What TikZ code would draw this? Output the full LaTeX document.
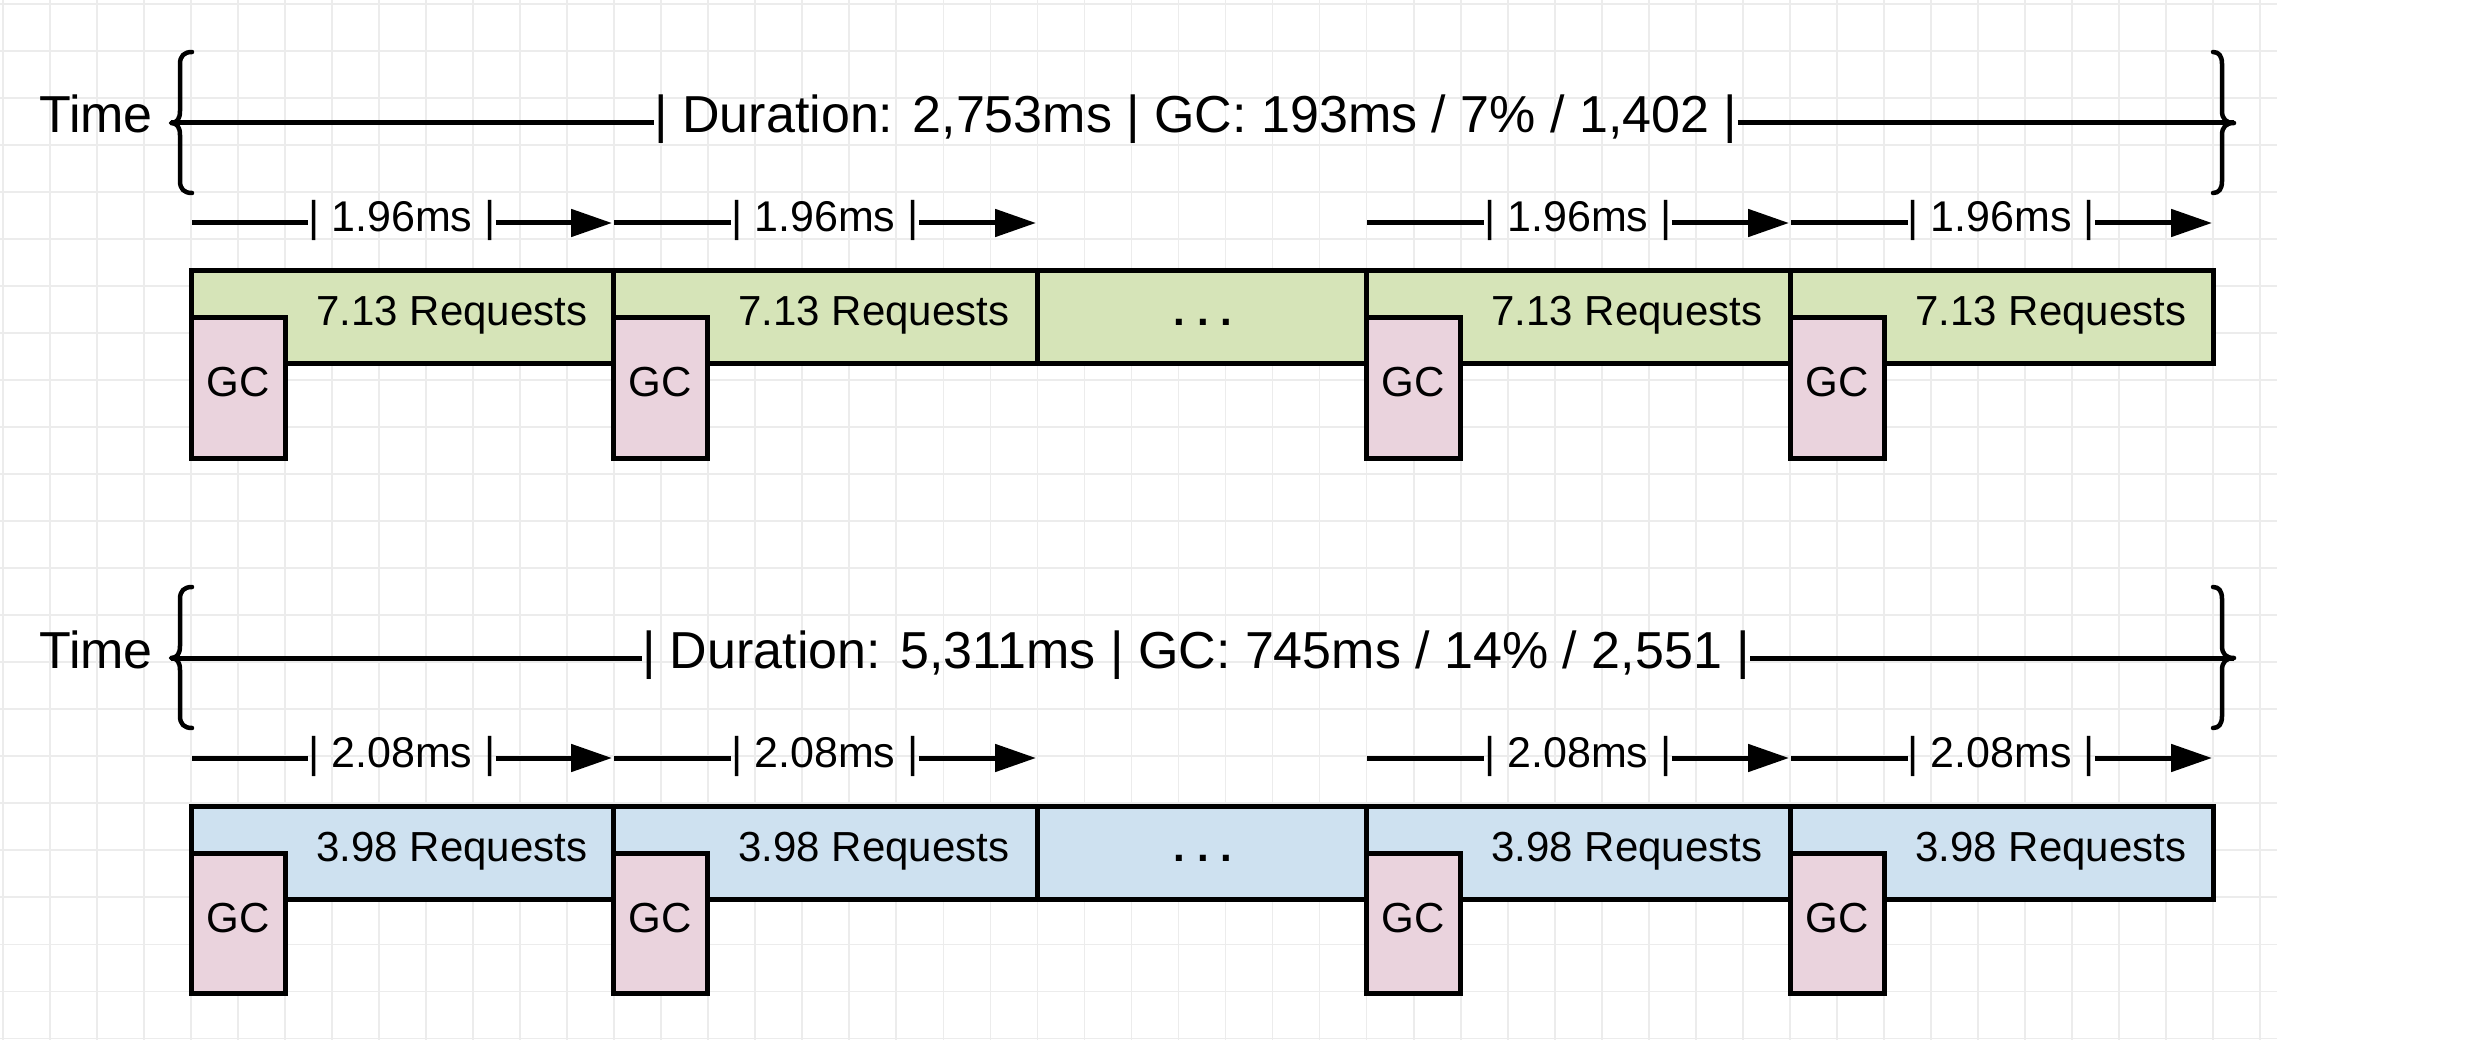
\documentclass[tikz,border=0pt]{standalone}
\usepackage{fontspec}
\setmainfont{Liberation Sans}
\usetikzlibrary{arrows.meta}
\definecolor{reqgreen}{RGB}{214,228,184}
\definecolor{reqblue}{RGB}{206,225,240}
\definecolor{gcpink}{RGB}{234,211,221}
\definecolor{gridgray}{RGB}{236,236,236}
\tikzset{
  ln/.style={line width=5pt},
  seg/.style={draw=black, line width=5pt},
  gcbox/.style={draw=black, line width=5pt, fill=gcpink},
  big/.style={font=\fontsize{52}{60}\selectfont, inner sep=0pt, anchor=base},
  lbl/.style={font=\fontsize{42}{50}\selectfont, inner sep=0pt, anchor=base},
  arr/.style={line width=5pt, -{Triangle[length=41pt,width=27pt]}},
  bracepath/.style={line width=4.5pt, line cap=round, line join=round},
}
\newcommand\tlgroup[6]{%
\begin{scope}[yshift=-#2pt]
  \coordinate (#1lt) at (171,123);
  \coordinate (#1rt) at (2234,123);
  \draw[bracepath] (192,52) .. controls (184,52) and (180,56) .. (180,64) -- (180,111)
     .. controls (180,119) and (177,123) .. (#1lt) .. controls (177,123) and (180,127) .. (180,135)
     -- (180,181) .. controls (180,189) and (184,193) .. (192,193);
  \draw[bracepath] (2213,52) .. controls (2219,52) and (2222,56) .. (2222,64) -- (2222,111)
     .. controls (2222,119) and (2226,123) .. (#1rt) .. controls (2226,123) and (2222,127) .. (2222,135)
     -- (2222,181) .. controls (2222,189) and (2219,193) .. (2213,193);
  \node[big, anchor=base east] (#1time) at (153,133) {Time};
  \node[big] (#1dur) at (1196,133) {#4};
  \draw[ln] (#1lt) -- (#1dur.west |- #1lt);
  \draw[ln] (#1dur.east |- #1rt) -- (#1rt);
  \foreach \xa/\xb in {191/613, 613/1037, 1037/1366, 1366/1790, 1790/2213}
    \draw[seg, fill=#3] (\xa,271) rectangle (\xb,364);
  \node[lbl, font=\fontsize{42}{50}\selectfont\bfseries] (#1dots) at (1203,326) {.\ .\ .};
  \foreach \xa/\xb/\n in {191/613/1, 613/1037/2, 1366/1790/4, 1790/2213/5} {
    \draw[gcbox] (\xa,318) rectangle ({\xa+94},458);
    \node[lbl] (#1gc\n) at ({\xa+47},397) {GC};
    \node[lbl] (#1rq\n) at ({\xa+261},326) {#6 Requests};
    \coordinate (#1s\n) at ({\xa+1},223);
    \coordinate (#1e\n) at ({\xb-1},223);
    \node[lbl, font=\fontsize{43}{50}\selectfont] (#1p\n) at ({(\xa+\xb)/2},232) {| #5 |};
    \draw[ln] (#1s\n) -- (#1p\n.west |- #1s\n);
    \draw[arr] (#1p\n.east |- #1e\n) -- (#1e\n);
  }
\end{scope}}
\begin{document}
\begin{tikzpicture}[x=1pt,y=-1pt]
  \fill[white] (0,0) rectangle (2482,1040);
  \useasboundingbox (0,0) rectangle (2482,1040);
  \foreach \k in {0,...,48}
    \draw[gridgray, line width=1.8pt] ({3+47.02*\k},0) -- ({3+47.02*\k},1040);
  \foreach \k in {0,...,22}
    \draw[gridgray, line width=1.8pt] (0,{4+47.02*\k}) -- (2277,{4+47.02*\k});
  \tlgroup{a}{0}{reqgreen}{| Duration: 2,753ms | GC: 193ms / 7\% / 1,402 |}{1.96ms}{7.13}
  \tlgroup{b}{535}{reqblue}{| Duration: 5,311ms | GC: 745ms / 14\% / 2,551 |}{2.08ms}{3.98}
\end{tikzpicture}
\end{document}
